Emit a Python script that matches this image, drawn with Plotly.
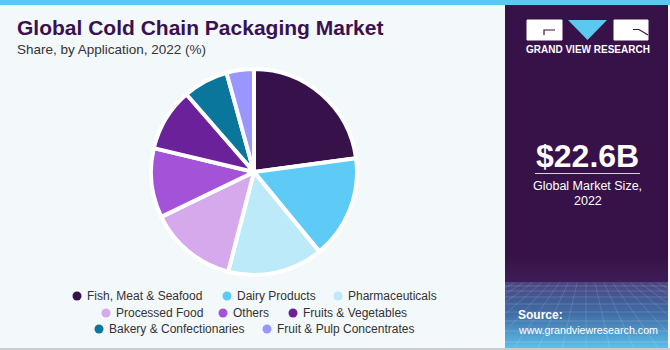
import plotly.graph_objects as go

# Market share by application, 2022 (%)
segments = [
    "Fish, Meat & Seafood",
    "Dairy Products",
    "Pharmaceuticals",
    "Processed Food",
    "Others",
    "Fruits & Vegetables",
    "Bakery & Confectionaries",
    "Fruit & Pulp Concentrates",
]
shares = [22.9, 16.2, 15.0, 13.8, 10.9, 9.9, 7.1, 4.3]
colors = ["#36114a", "#5ecaf6", "#bdeaf9", "#d5a9ec", "#a452d8", "#6b219a", "#0b769b", "#9a96fd"]

title = "Global Cold Chain Packaging Market"
subtitle = "Share, by Application, 2022 (%)"
market_size = "$22.6B"
market_caption = ["Global Market Size,", "2022"]

W, H = 670, 350
BG = "#f3f8fb"
PANEL = "#371248"
FONT = "Liberation Sans, Arial, sans-serif"


def px(x):
    return x / W


def py(y):
    return 1 - y / H


def poly(points):
    return "M " + " L ".join(f"{px(x)},{py(y)}" for x, y in points) + " Z"


fig = go.Figure()

fig.add_trace(go.Pie(
    labels=segments,
    values=shares,
    sort=False,
    direction="clockwise",
    rotation=0,
    marker=dict(colors=colors, line=dict(color="white", width=4)),
    textinfo="none",
    hoverinfo="label+percent",
    showlegend=False,
    domain=dict(x=[px(151), px(357)], y=[py(275), py(69)]),
))

shapes = []
annotations = []

# right-hand panel with a fade towards blue at the bottom
shapes.append(dict(type="rect", xref="paper", yref="paper", x0=px(505), x1=px(668),
                   y0=py(348), y1=py(0), fillcolor=PANEL, line_width=0, layer="below"))


def mix(c1, c2, t):
    a = [int(c1[i:i + 2], 16) for i in (1, 3, 5)]
    b = [int(c2[i:i + 2], 16) for i in (1, 3, 5)]
    return "#" + "".join(f"{round(a[k] + (b[k] - a[k]) * t):02x}" for k in range(3))


def band(y_start, y_end, c_top, c_bottom, step=2):
    n = (y_end - y_start) // step
    for i in range(n):
        t = i / max(n - 1, 1)
        shapes.append(dict(type="rect", xref="paper", yref="paper", x0=px(505), x1=px(668),
                           y0=py(y_start + (i + 1) * step), y1=py(y_start + i * step),
                           fillcolor=mix(c_top, c_bottom, t), line_width=0, layer="below"))


band(256, 282, PANEL, "#3d1d58")
band(282, 312, "#4a4682", "#3f6aa3")
band(312, 348, "#3f6aa3", "#5cbde9")

# faint grid texture in the fade
for yy in [286, 291, 297, 304, 312, 321, 331, 342]:
    shapes.append(dict(type="line", xref="paper", yref="paper", x0=px(505), x1=px(668),
                       y0=py(yy), y1=py(yy), line=dict(color="rgba(255,255,255,0.16)", width=1)))
for k in range(-9, 10):
    shapes.append(dict(type="line", xref="paper", yref="paper",
                       x0=px(586 + k * 9), x1=px(586 + k * 24), y0=py(283), y1=py(348),
                       line=dict(color="rgba(255,255,255,0.13)", width=1)))

# top accent bar and bottom rule
shapes.append(dict(type="rect", xref="paper", yref="paper", x0=0, x1=1, y0=py(5), y1=1,
                   fillcolor="#5bc8f0", line_width=0))
shapes.append(dict(type="rect", xref="paper", yref="paper", x0=0, x1=1, y0=0, y1=py(348),
                   fillcolor="#c9cccf", line_width=0))

# logo blocks
for x0, x1 in [(527, 562), (614, 648)]:
    shapes.append(dict(type="rect", xref="paper", yref="paper", layer="above",
                       x0=px(x0), x1=px(x1), y0=py(40), y1=py(20),
                       fillcolor="rgb(255,255,255)", opacity=1,
                       line=dict(color="rgb(255,255,255)", width=1)))
shapes.append(dict(type="path", xref="paper", yref="paper",
                   path=f"M {px(544)},{py(35)} L {px(544)},{py(30)} L {px(555)},{py(30)}",
                   line=dict(color=PANEL, width=1.2)))
shapes.append(dict(type="path", xref="paper", yref="paper",
                   path=poly([(568, 20), (607, 20), (587.5, 40)]),
                   fillcolor="#5bc8f0", line_width=0))
shapes.append(dict(type="path", xref="paper", yref="paper",
                   path=f"M {px(633)},{py(29.5)} L {px(639)},{py(29.5)} L {px(648)},{py(35)}",
                   line=dict(color=PANEL, width=1.2)))

annotations.append(dict(text="<b>GRAND VIEW RESEARCH</b>", x=px(587.5), y=py(50),
                        xref="paper", yref="paper", xanchor="center", yanchor="middle",
                        showarrow=False, font=dict(family=FONT, size=10, color="white")))

# headline figure
annotations.append(dict(text=f"<b>{market_size}</b>", x=px(587.5), y=py(156),
                        xref="paper", yref="paper", xanchor="center", yanchor="middle",
                        showarrow=False, font=dict(family=FONT, size=32, color="white")))
shapes.append(dict(type="line", xref="paper", yref="paper", x0=px(535), x1=px(640),
                   y0=py(173.5), y1=py(173.5), line=dict(color="#d9d3df", width=1)))
for i, line in enumerate(market_caption):
    annotations.append(dict(text=line, x=px(587.5), y=py(186 + i * 15),
                            xref="paper", yref="paper", xanchor="center", yanchor="middle",
                            showarrow=False, font=dict(family=FONT, size=12.5, color="white")))

annotations.append(dict(text="<b>Source:</b>", x=px(516), y=py(315),
                        xref="paper", yref="paper", xanchor="left", yanchor="middle",
                        showarrow=False, font=dict(family=FONT, size=12, color="white")))
annotations.append(dict(text="www.grandviewresearch.com", x=px(516), y=py(330),
                        xref="paper", yref="paper", xanchor="left", yanchor="middle",
                        showarrow=False, font=dict(family=FONT, size=10.7, color="white")))

# title block
annotations.append(dict(text=f"<b>{title}</b>", x=px(15), y=py(28),
                        xref="paper", yref="paper", xanchor="left", yanchor="middle",
                        showarrow=False, font=dict(family=FONT, size=21, color="#3a1150")))
annotations.append(dict(text=subtitle, x=px(15), y=py(50),
                        xref="paper", yref="paper", xanchor="left", yanchor="middle",
                        showarrow=False, font=dict(family=FONT, size=13.5, color="#333333")))

# legend: rows of (dot centre x, row y)
legend_slots = [(77, 296), (227, 296), (338, 296),
                (106, 313), (223, 313), (293, 313),
                (99, 329), (267, 329)]
for (cx, cy), name, col in zip(legend_slots, segments, colors):
    r = 4.5
    shapes.append(dict(type="circle", xref="paper", yref="paper",
                       x0=px(cx - r), x1=px(cx + r), y0=py(cy + r), y1=py(cy - r),
                       fillcolor=col, line_width=0))
    annotations.append(dict(text=name, x=px(cx + 8), y=py(cy),
                            xref="paper", yref="paper", xanchor="left", yanchor="middle",
                            showarrow=False, font=dict(family=FONT, size=12, color="#333333")))

fig.update_layout(
    width=W, height=H,
    margin=dict(l=0, r=0, t=0, b=0),
    paper_bgcolor=BG,
    plot_bgcolor=BG,
    shapes=shapes,
    annotations=annotations,
)

fig.write_html("out.html", config={"displayModeBar": False})
